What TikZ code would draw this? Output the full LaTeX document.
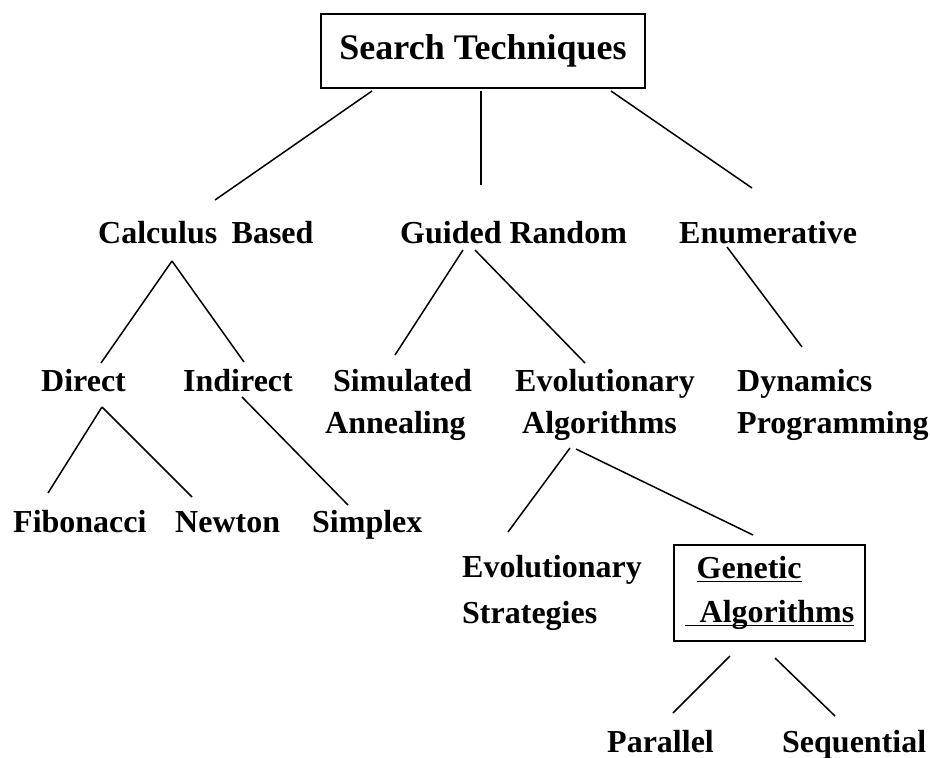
\documentclass[tikz,border=0pt]{standalone}
\usepackage{fontspec}
\setmainfont{Liberation Serif}
\usetikzlibrary{calc}
% underline at a fixed depth, drawn through descenders
\newcommand\ulword[1]{\setbox0=\hbox{#1}\rlap{\rule[-3.5pt]{\wd0}{1.4pt}}\box0}
\begin{document}
\begin{tikzpicture}[x=1pt,y=-1pt,
  font=\fontsize{32}{42}\selectfont\bfseries,
  lbl/.style={inner sep=0pt, anchor=base west, align=left},
  link/.style={line width=1.5pt},
  frame/.style={draw, line width=2pt, inner sep=0pt}]
\useasboundingbox (0,0) rectangle (930,758);

% root
\node[frame, minimum width=324, minimum height=74,
      font=\fontsize{36}{42}\selectfont\bfseries] (st) at (483,51) {Search Techniques};

% second level
\node[lbl] (cb) at (98,243) {Calculus\hspace{0.45em}Based};
\node[lbl] (gr) at (400,243) {Guided Random};
\node[lbl] (en) at (679,243) {Enumerative};

% third level (two-line nodes sit on the baseline of their last line)
\node[lbl] (dir) at (41,391) {Direct};
\node[lbl] (ind) at (183,391) {Indirect};
\node[lbl] (sa) at (325,433) {\hspace*{8pt}Simulated\\Annealing};
\node[lbl] (ea) at (515,433) {Evolutionary\\\hspace*{7pt}Algorithms};
\node[lbl] (dp) at (737,433) {Dynamics\\Programming};

% fourth level
\node[lbl] (fib) at (13,532) {Fibonacci};
\node[lbl] (nw) at (175,532) {Newton};
\node[lbl] (sx) at (312,532) {Simplex};
\node[lbl, font=\fontsize{32}{46}\selectfont\bfseries] (es) at (462,623) {Evolutionary\\Strategies};
\node[frame, minimum width=191, minimum height=96, align=left,
      font=\fontsize{32}{44}\selectfont\bfseries] (ga) at (769.5,593)
      {\hspace*{12pt}\ulword{Genetic}\\\ulword{\hspace*{15pt}Algorithms}};

% leaves
\node[lbl] (par) at (607,752) {Parallel};
\node[lbl] (seq) at (782,752) {Sequential};

% connectors
\draw[link] ($(st.south)+(-111,2)$) -- ($(cb.base west)+(117,-43)$);
\draw[link] ($(st.south)+(-2,2)$) -- ($(gr.base west)+(81,-58)$);
\draw[link] ($(st.south)+(128,2)$) -- ($(en.base west)+(73,-55)$);

\draw[link] ($(cb.base west)+(74,18)$) -- ($(dir.base west)+(60,-28)$);
\draw[link] ($(cb.base west)+(74,18)$) -- ($(ind.base west)+(61,-29)$);
\draw[link] ($(gr.base west)+(63,7)$) -- ($(sa.base west)+(70,-78)$);
\draw[link] ($(gr.base west)+(75,7)$) -- ($(ea.base west)+(70,-70)$);
\draw[link] ($(en.base west)+(48,4)$) -- ($(dp.base west)+(65,-86)$);

\draw[link] ($(dir.base west)+(61,16)$) -- ($(fib.base west)+(35,-39)$);
\draw[link] ($(dir.base west)+(61,16)$) -- ($(nw.base west)+(17,-35)$);
\draw[link] ($(ind.base west)+(59,6)$) -- ($(sx.base west)+(36,-27)$);

\draw[link] ($(ea.base west)+(55,15)$) -- ($(es.base west)+(46,-91)$);
\draw[link] ($(ea.base west)+(61,16)$) -- ($(ga.north)+(-16.5,-9)$);

\draw[link] ($(ga.south)+(-39.5,14)$) -- ($(par.base west)+(66,-39)$);
\draw[link] ($(ga.south)+(5.5,16)$) -- ($(seq.base west)+(53,-36)$);
\end{tikzpicture}
\end{document}
